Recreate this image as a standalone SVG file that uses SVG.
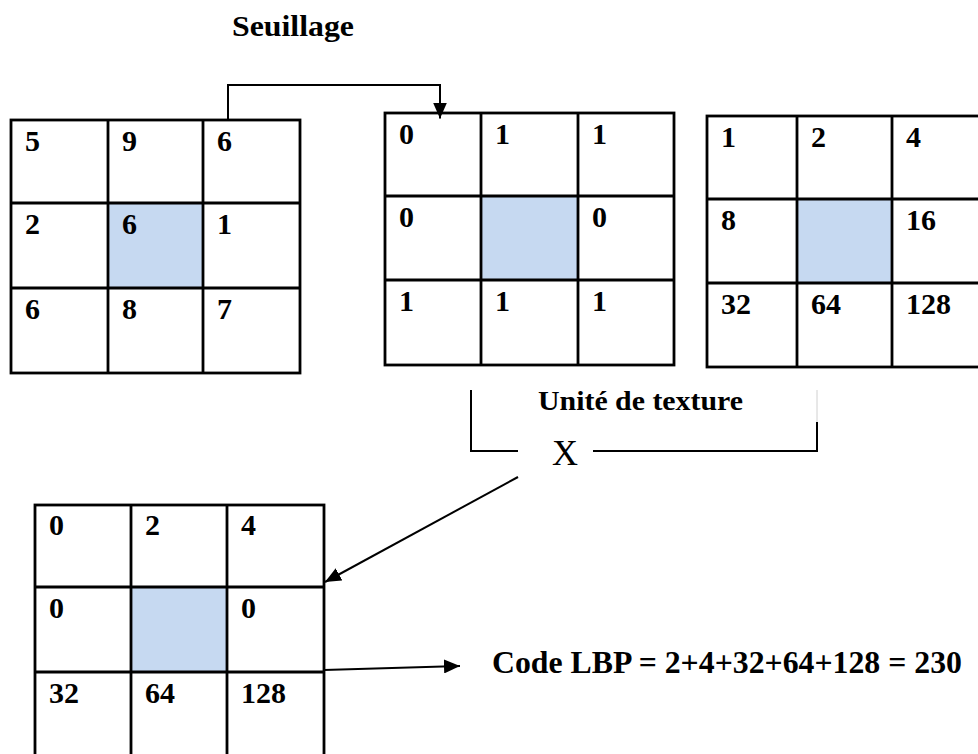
<svg xmlns="http://www.w3.org/2000/svg" width="978" height="754" viewBox="0 0 978 754">
  <defs>
    <style>
      .grid { fill: none; stroke: #000; stroke-width: 2.8; }
      .hi { fill: #c6d9f1; stroke: none; }
      .num { font-family: "Liberation Serif", "Times New Roman", serif; font-weight: bold; font-size: 30px; fill: #000; }
      .lbl { font-family: "Liberation Serif", "Times New Roman", serif; font-weight: bold; fill: #000; }
      .wire { fill: none; stroke: #000; stroke-width: 2; }
    </style>
    <marker id="head" viewBox="0 0 16 14" refX="16" refY="7" markerWidth="16" markerHeight="14" markerUnits="userSpaceOnUse" orient="auto">
      <path d="M0,0 L16,7 L0,14 Z" fill="#000"/>
    </marker>
  </defs>

  <rect width="978" height="754" fill="#fff"/>

  <text class="lbl" x="232" y="36" font-size="30" textLength="122" lengthAdjust="spacingAndGlyphs">Seuillage</text>

  <!-- input neighbourhood -->
  <g id="grid-input">
    <rect class="hi" x="108" y="203" width="95" height="85"/>
    <rect class="grid" x="11" y="120" width="289" height="253"/>
    <path class="grid" d="M108,120V373 M203,120V373 M11,203H300 M11,288H300"/>
    <text class="num" x="25" y="151">5</text>
    <text class="num" x="122" y="151">9</text>
    <text class="num" x="217" y="151">6</text>
    <text class="num" x="25" y="234">2</text>
    <text class="num" x="122" y="234">6</text>
    <text class="num" x="217" y="234">1</text>
    <text class="num" x="25" y="319">6</text>
    <text class="num" x="122" y="319">8</text>
    <text class="num" x="217" y="319">7</text>
  </g>

  <!-- thresholded neighbourhood -->
  <g id="grid-threshold">
    <rect class="hi" x="481" y="196" width="97" height="84"/>
    <rect class="grid" x="385" y="113" width="289" height="252"/>
    <path class="grid" d="M481,113V365 M578,113V365 M385,196H674 M385,280H674"/>
    <text class="num" x="399" y="144">0</text>
    <text class="num" x="495" y="144">1</text>
    <text class="num" x="592" y="144">1</text>
    <text class="num" x="399" y="227">0</text>
    <text class="num" x="592" y="227">0</text>
    <text class="num" x="399" y="311">1</text>
    <text class="num" x="495" y="311">1</text>
    <text class="num" x="592" y="311">1</text>
  </g>

  <!-- weights -->
  <g id="grid-weights">
    <rect class="hi" x="797" y="199" width="95" height="84"/>
    <rect class="grid" x="707" y="116" width="290" height="251"/>
    <path class="grid" d="M797,116V367 M892,116V367 M707,199H997 M707,283H997"/>
    <text class="num" x="721" y="147">1</text>
    <text class="num" x="811" y="147">2</text>
    <text class="num" x="906" y="147">4</text>
    <text class="num" x="721" y="230">8</text>
    <text class="num" x="906" y="230">16</text>
    <text class="num" x="721" y="314">32</text>
    <text class="num" x="811" y="314">64</text>
    <text class="num" x="906" y="314">128</text>
  </g>

  <!-- weighted result -->
  <g id="grid-result">
    <rect class="hi" x="131" y="587" width="96" height="85"/>
    <rect class="grid" x="35" y="505" width="289" height="260"/>
    <path class="grid" d="M131,505V765 M227,505V765 M35,587H324 M35,672H324"/>
    <text class="num" x="49" y="535">0</text>
    <text class="num" x="145" y="535">2</text>
    <text class="num" x="241" y="535">4</text>
    <text class="num" x="49" y="618">0</text>
    <text class="num" x="241" y="618">0</text>
    <text class="num" x="49" y="703">32</text>
    <text class="num" x="145" y="703">64</text>
    <text class="num" x="241" y="703">128</text>
  </g>

  <g id="label-unite">
    <text class="lbl" x="538" y="410" font-size="27" textLength="205" lengthAdjust="spacingAndGlyphs">Unité de texture</text>
    <text x="552" y="465" font-family="Liberation Serif, Times New Roman, serif" font-size="36" fill="#000">X</text>
  </g>

  <g id="label-code">
    <text class="lbl" x="492" y="673" font-size="31" textLength="470" lengthAdjust="spacingAndGlyphs">Code LBP = 2+4+32+64+128 = 230</text>
  </g>

  <g id="connectors">
    <path class="wire" d="M228,120V85H440V118.5" marker-end="url(#head)"/>
    <path class="wire" d="M471,390V451H518"/>
    <path class="wire" d="M593,451H817V422"/>
    <path d="M817,390V422" fill="none" stroke="#d0d0d0" stroke-width="1"/>
    <path class="wire" d="M518,477L325,582" marker-end="url(#head)"/>
    <path class="wire" d="M324,670L460,666" marker-end="url(#head)"/>
  </g>
</svg>
